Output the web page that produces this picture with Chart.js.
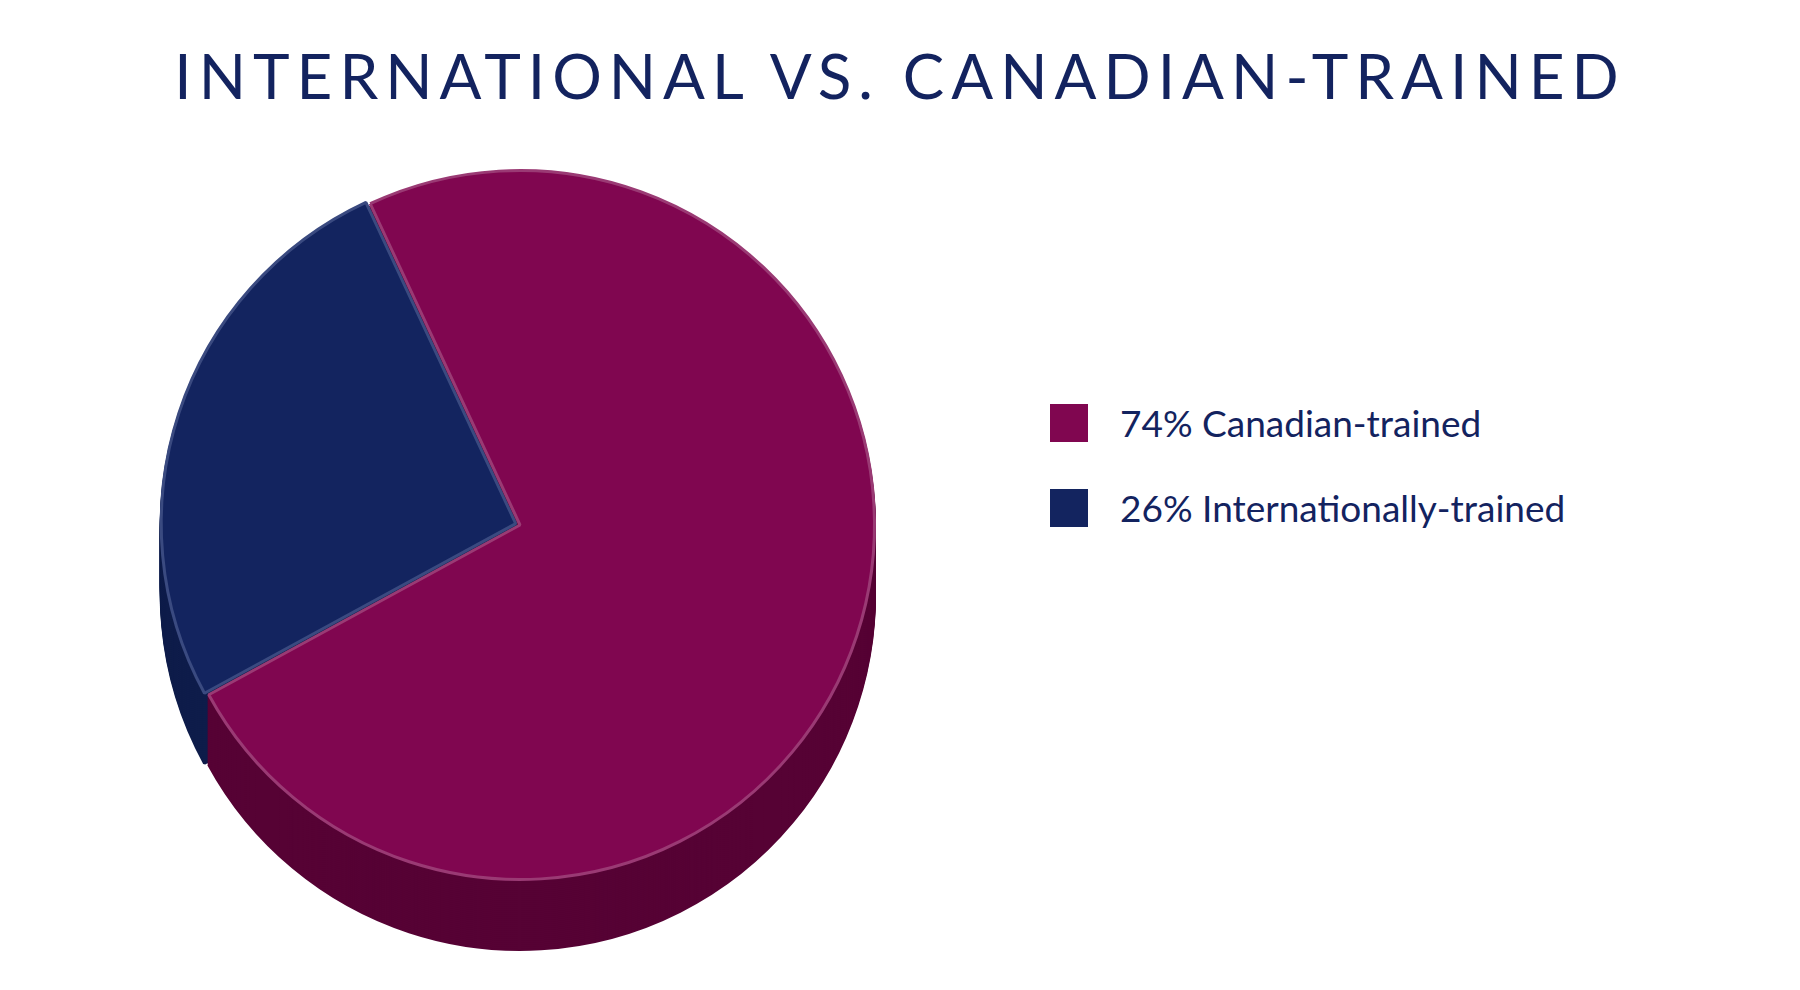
<!DOCTYPE html>
<html>
<head>
<meta charset="utf-8">
<script src="https://cdn.jsdelivr.net/npm/chart.js@4/dist/chart.umd.min.js"></script>
<style>
  html, body { margin: 0; padding: 0; background: #fff; }
  body { width: 1800px; height: 990px; position: relative; overflow: hidden; font-family: Lato, "Open Sans", sans-serif; }
  h1 { position: absolute; top: 38px; left: 0; width: 1800px; text-align: center; margin: 0;
       font-weight: 400; font-size: 62px; letter-spacing: 7px; color: #13235f; }
  #wrap { position: absolute; left: 100px; top: 150px; width: 840px; height: 820px; }
  .legend { position: absolute; left: 1050px; top: 380px; color: #13235f; font-size: 37px; }
  .legend div { display: flex; align-items: center; height: 85px; }
  .legend span { display: inline-block; width: 38px; height: 38px; margin-right: 32px; }
</style>
</head>
<body>
<h1 id="title"></h1>
<div id="wrap"><canvas id="pie"></canvas></div>
<div class="legend" id="legend"></div>
<script>
  const TITLE = "INTERNATIONAL VS. CANADIAN-TRAINED";
  const LABELS = ["Canadian-trained", "Internationally-trained"];
  const VALUES = [74, 26];
  const COLORS = ["#800650", "#13245f"];
  const SIDE_COLORS = ["#560234", "#0e1c4a"];

  document.getElementById("title").textContent = TITLE;
  document.getElementById("legend").innerHTML = LABELS.map((l, i) =>
    `<div><span style="background:${COLORS[i]}"></span>${VALUES[i]}% ${l}</div>`).join("");

  const DEPTH = 70;
  const depthPlugin = {
    id: "depth",
    beforeDatasetsDraw(chart) {
      const ctx = chart.ctx;
      const meta = chart.getDatasetMeta(0);
      for (let d = DEPTH; d > 0; d -= 2) {
        meta.data.forEach((arc, i) => {
          const o = arc.options;
          const bg = o.backgroundColor, bc = o.borderColor;
          o.backgroundColor = SIDE_COLORS[i];
          o.borderColor = SIDE_COLORS[i];
          ctx.save();
          ctx.translate(0, d);
          arc.draw(ctx);
          ctx.restore();
          o.backgroundColor = bg;
          o.borderColor = bc;
        });
      }
    }
  };

  new Chart(document.getElementById("pie"), {
    type: "pie",
    data: {
      labels: LABELS,
      datasets: [{
        data: VALUES,
        backgroundColor: COLORS,
        borderColor: ["#9a3a74", "#3a4a80"],
        borderWidth: 3,
        offset: [0, 18]
      }]
    },
    options: {
      responsive: true,
      maintainAspectRatio: false,
      animation: false,
      rotation: -25,
      layout: { padding: { top: 10, bottom: DEPTH + 10, left: 20, right: 20 } },
      plugins: { legend: { display: false }, tooltip: { enabled: false } }
    },
    plugins: [depthPlugin]
  });
</script>
</body>
</html>
